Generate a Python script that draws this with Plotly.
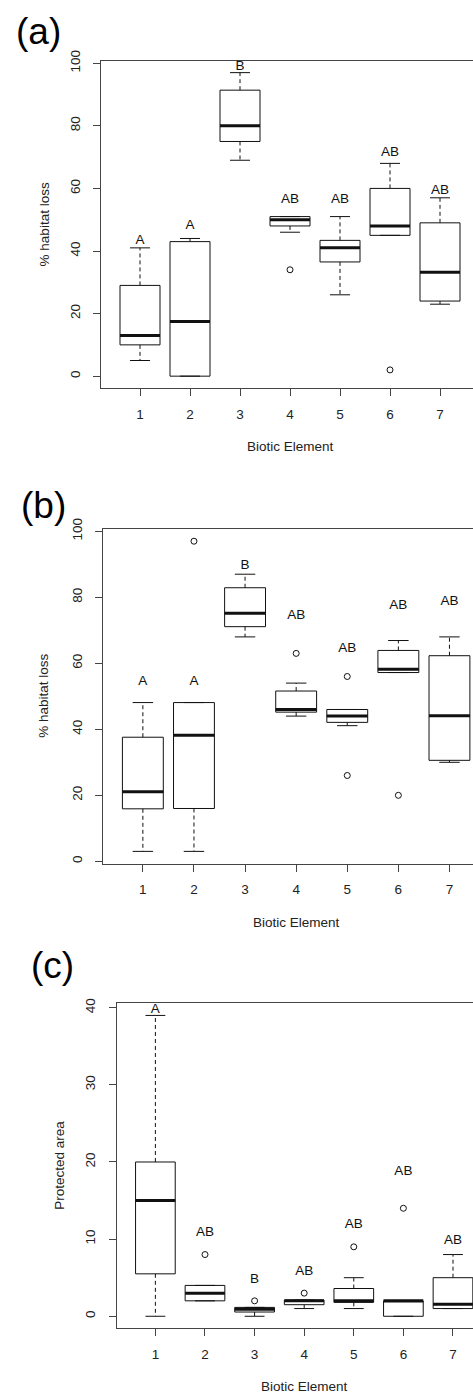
import plotly.graph_objects as go

# ---------------- data ----------------
cats = [1, 2, 3, 4, 5, 6, 7]
tick_labels = ["1", "2", "3", "4", "5", "6", "7"]

# Panel (a): % habitat loss
a_low = [5, 0, 69, 46, 26, 45, 23]
a_q1 = [10, 0, 75, 48, 36.5, 45, 24]
a_med = [13, 17.5, 80, 50, 41, 48, 33.2]
a_q3 = [29, 43, 91.4, 51, 43.4, 60, 49]
a_high = [41, 44, 97, 51, 51, 68, 57]
a_out_x = [4, 6]
a_out_y = [34, 2]
a_letters = ["A", "A", "B", "AB", "AB", "AB", "AB"]
a_letter_y = [43.3, 48.2, 98.9, 56.5, 56.5, 71.4, 59.3]

# Panel (b): % habitat loss
b_low = [3, 3, 68, 44, 41.1, 57.2, 30]
b_q1 = [15.9, 16, 71.1, 45.2, 42.1, 57.2, 30.6]
b_med = [21.1, 38.2, 75.2, 46, 44, 58.2, 44.1]
b_q3 = [37.6, 48.1, 82.9, 51.6, 46, 63.9, 62.3]
b_high = [48.1, 48.1, 87, 54, 46, 66.9, 68]
b_out_x = [2, 4, 5, 5, 6]
b_out_y = [97, 63, 56, 26, 20]
b_letters = ["A", "A", "B", "AB", "AB", "AB", "AB"]
b_letter_y = [54.5, 54.5, 89.5, 74.5, 64.5, 77.6, 78.6]

# Panel (c): Protected area
c_low = [0, 2, 0, 1, 1, 0, 1]
c_q1 = [5.5, 2, 0.55, 1.5, 1.8, 0, 1]
c_med = [15, 3, 0.9, 2, 2, 2, 1.55]
c_q3 = [20, 4, 1.15, 2.1, 3.6, 2, 5]
c_high = [39, 4, 1.15, 2.1, 5, 2, 8]
c_out_x = [2, 3, 4, 5, 6]
c_out_y = [8, 2, 3, 9, 14]
c_letters = ["A", "AB", "B", "AB", "AB", "AB", "AB"]
c_letter_y = [39.8, 10.8, 4.8, 5.8, 11.9, 18.8, 9.8]

panels = [
    dict(low=a_low, q1=a_q1, med=a_med, q3=a_q3, high=a_high, ox=a_out_x, oy=a_out_y,
         letters=a_letters, ly=a_letter_y),
    dict(low=b_low, q1=b_q1, med=b_med, q3=b_q3, high=b_high, ox=b_out_x, oy=b_out_y,
         letters=b_letters, ly=b_letter_y),
    dict(low=c_low, q1=c_q1, med=c_med, q3=c_q3, high=c_high, ox=c_out_x, oy=c_out_y,
         letters=c_letters, ly=c_letter_y),
]

# ---------------- layout geometry (pixels) ----------------
W, H = 473, 1396
FONT = "Liberation Sans, Arial, sans-serif"
INK = "#111111"
FRAME = "#444444"
TXT = "#222222"
FS = 13.5

geo = [
    dict(left=101, unit=50.0, top=60.5, bottom=388.3, yr=[-3.88, 100.88], yt=[0, 20, 40, 60, 80, 100],
         ytitle="% habitat loss", ytx=44, xty=446.7, lab="(a)", labx=38, laby=31),
    dict(left=103, unit=51.1, top=528.8, bottom=863.8, yr=[-0.76, 100.76], yt=[0, 20, 40, 60, 80, 100],
         ytitle="% habitat loss", ytx=43.5, xty=922.5, lab="(b)", labx=43, laby=505),
    dict(left=116.7, unit=49.6, top=1003.4, bottom=1328.3, yr=[-1.56, 40.56], yt=[0, 10, 20, 30, 40],
         ytitle="Protected area", ytx=60, xty=1386.7, lab="(c)", labx=52, laby=966),
]

fig = go.Figure()
annotations = []
for k, (p, g) in enumerate(zip(panels, geo)):
    sfx = "" if k == 0 else str(k + 1)
    xa, ya = "x" + sfx, "y" + sfx

    # box bodies (whiskers drawn separately as dashed lines)
    fig.add_trace(go.Box(
        x=cats, q1=p["q1"], median=p["med"], q3=p["q3"],
        lowerfence=p["q1"], upperfence=p["q3"],
        width=0.8, whiskerwidth=0, boxpoints=False,
        line=dict(color=INK, width=1), fillcolor="rgba(255,255,255,0)",
        xaxis=xa, yaxis=ya, showlegend=False, hoverinfo="skip"))

    # dashed whiskers
    wx, wy = [], []
    for c, lo, q1, q3, hi in zip(cats, p["low"], p["q1"], p["q3"], p["high"]):
        if hi > q3:
            wx += [c, c, None]; wy += [q3, hi, None]
        if lo < q1:
            wx += [c, c, None]; wy += [q1, lo, None]
    fig.add_trace(go.Scatter(x=wx, y=wy, mode="lines", line=dict(color=INK, width=1, dash="4px,3px"),
                             xaxis=xa, yaxis=ya, showlegend=False, hoverinfo="skip"))

    # staples
    sx, sy = [], []
    for c, lo, hi in zip(cats, p["low"], p["high"]):
        sx += [c - 0.2, c + 0.2, None, c - 0.2, c + 0.2, None]
        sy += [hi, hi, None, lo, lo, None]
    fig.add_trace(go.Scatter(x=sx, y=sy, mode="lines", line=dict(color=INK, width=1),
                             xaxis=xa, yaxis=ya, showlegend=False, hoverinfo="skip"))

    # thick medians
    mx, my = [], []
    for c, m in zip(cats, p["med"]):
        mx += [c - 0.4, c + 0.4, None]; my += [m, m, None]
    fig.add_trace(go.Scatter(x=mx, y=my, mode="lines", line=dict(color=INK, width=3),
                             xaxis=xa, yaxis=ya, showlegend=False, hoverinfo="skip"))

    # outliers
    fig.add_trace(go.Scatter(x=p["ox"], y=p["oy"], mode="markers",
                             marker=dict(symbol="circle-open", size=6, color=INK, line=dict(width=1)),
                             xaxis=xa, yaxis=ya, showlegend=False, hoverinfo="skip"))

    # significance letters
    fig.add_trace(go.Scatter(x=cats, y=p["ly"], mode="text", text=p["letters"],
                             textposition="middle center",
                             textfont=dict(family=FONT, size=FS, color=INK),
                             xaxis=xa, yaxis=ya, showlegend=False, hoverinfo="skip"))

    right_val = 0.22 + (W - g["left"]) / g["unit"]
    xdom = [g["left"] / W, 1.0]
    ydom = [1 - g["bottom"] / H, 1 - g["top"] / H]

    fig.layout["xaxis" + sfx] = dict(
        domain=xdom, range=[0.22, right_val], anchor=ya,
        tickmode="array", tickvals=cats, ticktext=tick_labels,
        ticks="outside", ticklen=7, tickcolor=FRAME, tickwidth=1,
        showline=True, linecolor=FRAME, linewidth=1, mirror=True,
        showgrid=False, zeroline=False, automargin=False,
        tickfont=dict(family=FONT, size=FS, color=TXT), ticklabelstandoff=6)
    fig.layout["yaxis" + sfx] = dict(
        domain=ydom, range=g["yr"], anchor=xa,
        tickmode="array", tickvals=g["yt"], ticktext=[str(v) for v in g["yt"]],
        ticks="outside", ticklen=7, tickcolor=FRAME, tickwidth=1, tickangle=-90,
        showline=True, linecolor=FRAME, linewidth=1, mirror=False,
        showgrid=False, zeroline=False, automargin=False,
        tickfont=dict(family=FONT, size=FS, color=TXT), ticklabelstandoff=8)

    # axis titles and panel label
    cx = (g["left"] + g["left"] + (7.78 - 0.22) * g["unit"]) / 2
    annotations.append(dict(text="Biotic Element", x=cx / W, y=1 - g["xty"] / H, xref="paper", yref="paper",
                            showarrow=False, xanchor="center", yanchor="middle",
                            font=dict(family=FONT, size=FS, color=TXT)))
    annotations.append(dict(text=g["ytitle"], x=g["ytx"] / W, y=1 - (g["top"] + g["bottom"]) / 2 / H,
                            xref="paper", yref="paper", textangle=-90,
                            showarrow=False, xanchor="center", yanchor="middle",
                            font=dict(family=FONT, size=FS, color=TXT)))
    annotations.append(dict(text=g["lab"], x=g["labx"] / W, y=1 - g["laby"] / H, xref="paper", yref="paper",
                            showarrow=False, xanchor="center", yanchor="middle",
                            font=dict(family=FONT, size=37, color="#000000")))

fig.update_layout(
    width=W, height=H, margin=dict(l=0, r=0, t=0, b=0),
    paper_bgcolor="white", plot_bgcolor="white",
    showlegend=False, boxmode="overlay",
    annotations=annotations,
)

fig.write_html("out.html", config={"displayModeBar": False},
               post_script="document.body.style.margin='0px';")
